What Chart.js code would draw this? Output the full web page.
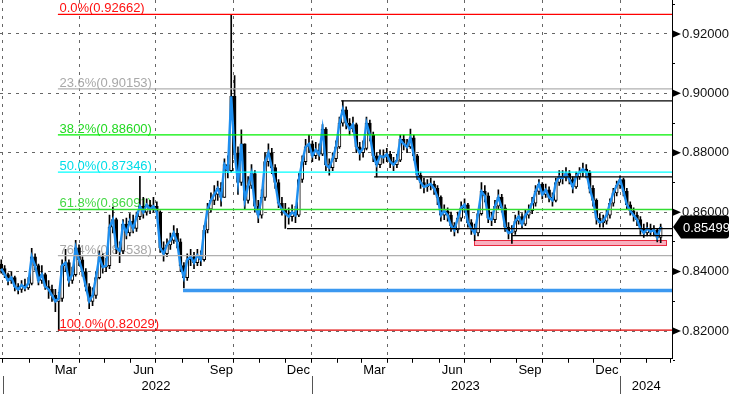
<!DOCTYPE html>
<html><head><meta charset="utf-8">
<script src="https://cdn.jsdelivr.net/npm/chart.js@4.4.1/dist/chart.umd.min.js"></script>
<style>html,body{margin:0;padding:0;background:#fff;overflow:hidden}canvas{display:block}</style>
</head><body>
<canvas id="c" width="729" height="394"></canvas>
<script>
// ---- DATA (x = days since 1 Jan 2022, one bar every 4 days) ----
const firstDay = -2, dayStep = 4;
const firstOpen = 0.8425;
const closes = [
0.8410,0.8390,0.8370,0.8380,0.8350,0.8340,0.8355,0.8345,0.8360,0.8450,
0.8420,0.8370,0.8390,0.8350,0.8340,0.8320,0.8300,0.8310,0.8420,0.8430,
0.8370,0.8390,0.8480,0.8440,0.8400,0.8350,0.8300,0.8320,0.8380,0.8450,
0.8415,0.8420,0.8550,0.8575,0.8480,0.8470,0.8560,0.8530,0.8570,0.8545,
0.8585,0.8620,0.8600,0.8625,0.8610,0.8620,0.8600,0.8480,0.8460,0.8490,
0.8505,0.8530,0.8500,0.8420,0.8380,0.8440,0.8450,0.8430,0.8455,0.8440,
0.8540,0.8610,0.8640,0.8660,0.8680,0.8650,0.8760,0.8740,0.8990,0.8800,
0.8700,0.8830,0.8640,0.8690,0.8730,0.8620,0.8590,0.8650,0.8770,0.8800,
0.8750,0.8700,0.8630,0.8610,0.8595,0.8585,0.8600,0.8590,0.8710,0.8770,
0.8820,0.8830,0.8790,0.8810,0.8795,0.8880,0.8760,0.8750,0.8780,0.8820,
0.8900,0.8945,0.8900,0.8880,0.8895,0.8820,0.8800,0.8815,0.8900,0.8860,
0.8790,0.8760,0.8790,0.8785,0.8795,0.8770,0.8760,0.8775,0.8845,0.8830,
0.8820,0.8850,0.8790,0.8725,0.8700,0.8685,0.8690,0.8695,0.8680,0.8650,
0.8590,0.8605,0.8590,0.8555,0.8540,0.8580,0.8615,0.8625,0.8565,0.8545,
0.8530,0.8595,0.8670,0.8655,0.8580,0.8575,0.8620,0.8650,0.8615,0.8550,
0.8530,0.8535,0.8570,0.8585,0.8560,0.8590,0.8605,0.8630,0.8670,0.8695,
0.8660,0.8675,0.8650,0.8640,0.8700,0.8720,0.8715,0.8730,0.8710,0.8685,
0.8720,0.8735,0.8745,0.8735,0.8680,0.8640,0.8580,0.8565,0.8570,0.8590,
0.8630,0.8665,0.8690,0.8710,0.8670,0.8625,0.8605,0.8590,0.8575,0.8545,
0.8530,0.8545,0.8535,0.8540,0.8515,0.85499];
const highs = [
0.8440,0.8420,0.8395,0.8400,0.8385,0.8360,0.8370,0.8375,0.8380,0.8478,
0.8460,0.8425,0.8420,0.8395,0.8370,0.8355,0.8340,0.8330,0.8440,0.8475,
0.8440,0.8415,0.8505,0.8490,0.8450,0.8410,0.8360,0.8345,0.8400,0.8470,
0.8460,0.8445,0.8590,0.8617,0.8580,0.8500,0.8575,0.8580,0.8595,0.8590,
0.8600,0.8721,0.8650,0.8645,0.8640,0.8650,0.8635,0.8605,0.8500,0.8510,
0.8530,0.8555,0.8545,0.8510,0.8430,0.8460,0.8475,0.8465,0.8475,0.8470,
0.8555,0.8630,0.8665,0.8690,0.8705,0.8700,0.8780,0.8790,0.9266,0.9060,
0.8820,0.8877,0.8830,0.8720,0.8760,0.8740,0.8640,0.8675,0.8800,0.8830,
0.8815,0.8760,0.8710,0.8650,0.8630,0.8615,0.8625,0.8620,0.8730,0.8790,
0.8845,0.8860,0.8840,0.8835,0.8830,0.8895,0.8885,0.8780,0.8800,0.8840,
0.8920,0.8975,0.8955,0.8915,0.8920,0.8900,0.8835,0.8840,0.8920,0.8910,
0.8870,0.8800,0.8810,0.8810,0.8815,0.8805,0.8785,0.8795,0.8860,0.8860,
0.8845,0.8880,0.8860,0.8795,0.8735,0.8715,0.8710,0.8715,0.8705,0.8690,
0.8655,0.8625,0.8615,0.8600,0.8565,0.8600,0.8635,0.8645,0.8630,0.8575,
0.8560,0.8610,0.8700,0.8690,0.8665,0.8600,0.8640,0.8675,0.8660,0.8625,
0.8565,0.8555,0.8590,0.8605,0.8595,0.8610,0.8625,0.8650,0.8690,0.8710,
0.8700,0.8695,0.8685,0.8665,0.8715,0.8740,0.8740,0.8750,0.8740,0.8720,
0.8735,0.8750,0.8765,0.8760,0.8740,0.8690,0.8645,0.8595,0.8590,0.8610,
0.8645,0.8680,0.8705,0.8722,0.8715,0.8680,0.8635,0.8615,0.8600,0.8585,
0.8560,0.8565,0.8560,0.8555,0.8545,0.8560];
const lows = [
0.8395,0.8380,0.8355,0.8360,0.8335,0.8325,0.8330,0.8335,0.8340,0.8355,
0.8405,0.8355,0.8360,0.8340,0.8310,0.8300,0.8265,0.8203,0.8300,0.8400,
0.8350,0.8360,0.8385,0.8420,0.8385,0.8335,0.8275,0.8285,0.8310,0.8375,
0.8395,0.8400,0.8410,0.8530,0.8460,0.8430,0.8460,0.8510,0.8520,0.8530,
0.8535,0.8575,0.8580,0.8590,0.8595,0.8600,0.8585,0.8465,0.8435,0.8450,
0.8475,0.8495,0.8480,0.8400,0.8345,0.8370,0.8420,0.8410,0.8420,0.8420,
0.8435,0.8530,0.8600,0.8625,0.8640,0.8620,0.8650,0.8715,0.8735,0.8780,
0.8660,0.8690,0.8610,0.8630,0.8680,0.8600,0.8565,0.8580,0.8640,0.8755,
0.8730,0.8680,0.8615,0.8590,0.8545,0.8560,0.8570,0.8565,0.8585,0.8700,
0.8760,0.8800,0.8770,0.8780,0.8775,0.8790,0.8740,0.8725,0.8740,0.8770,
0.8815,0.8890,0.8880,0.8860,0.8870,0.8800,0.8775,0.8785,0.8810,0.8840,
0.8770,0.8719,0.8750,0.8765,0.8770,0.8750,0.8740,0.8750,0.8770,0.8810,
0.8800,0.8815,0.8775,0.8710,0.8680,0.8665,0.8670,0.8675,0.8660,0.8625,
0.8570,0.8575,0.8570,0.8535,0.8520,0.8530,0.8570,0.8600,0.8550,0.8525,
0.8504,0.8520,0.8590,0.8635,0.8565,0.8555,0.8565,0.8610,0.8600,0.8535,
0.8510,0.8495,0.8525,0.8560,0.8545,0.8555,0.8580,0.8595,0.8620,0.8660,
0.8645,0.8650,0.8635,0.8620,0.8635,0.8690,0.8695,0.8705,0.8695,0.8665,
0.8680,0.8710,0.8720,0.8715,0.8665,0.8620,0.8560,0.8550,0.8550,0.8560,
0.8580,0.8620,0.8655,0.8680,0.8655,0.8610,0.8590,0.8570,0.8555,0.8525,
0.8515,0.8520,0.8520,0.8520,0.8500,0.8497];

// Fibonacci retracement levels
const fibNames  = ['0.0%','23.6%','38.2%','50.0%','61.8%','76.4%','100.0%'];
const fibLevels = [0.92662,0.90153,0.88600,0.87346,0.86091,0.84538,0.82029];
const fibStartDay = 65;
// support / resistance lines
const srLevels = [0.8975,0.8719,0.85445,0.8521];
const srStartDays = [400,439,336,602];
const supportLevel = 0.83364, supportStartDay = 213;
const boxRange = [0.8489,0.8505], boxDays = [557.5,785];
const lastPrice = 0.85499;

// axes
const xMin = -3.5, xMax = 791.4;
const yMin = 0.81065, yMax = 0.93143;
const yTickValues = [0.81,0.82,0.83,0.84,0.85,0.86,0.87,0.88,0.89,0.90,0.91,0.92,0.93];
const monthStartDays = [0,31,59,90,120,151,181,212,243,273,304,334,365,396,424,455,485,516,546,577,608,638,669,699,730,761,790];
const monthLabels = ['','','Mar','','','Jun','','','Sep','','','Dec','','','Mar','','','Jun','','','Sep','','','Dec','','',''];
const yearLabels = ['2022','2023','2024'];
const yearLabelDays = [181,547,761];
const yearStartDays = [0,365,730];

// ---- styles ----
const fibLineColors = ['#ff0000','#b0b0b0','#00f000','#00ffff','#33dd33','#b0b0b0','#e00000'];
const fibTextColors = ['#ff1010','#a8a8a8','#22d822','#00dde8','#44d844','#a8a8a8','#ff1010'];
const FONT = '"Liberation Sans", Arial, sans-serif';

const days = closes.map((_, i) => firstDay + i * dayStep);
const opens = closes.map((c, i) => i === 0 ? firstOpen : closes[i - 1]);

const datasets = [];
datasets.push({
  type:'bar', label:'wick', order:10, grouped:false,
  data: days.map((d,i)=>({x:d, y:[lows[i], highs[i]]})),
  backgroundColor:'#000', borderWidth:0, barThickness:1, borderSkipped:false
});
datasets.push({
  type:'bar', label:'body', order:9, grouped:false,
  data: days.map((d,i)=>({x:d, y:[opens[i], closes[i]]})),
  backgroundColor: ctx => (ctx.raw && ctx.raw.y[1] >= ctx.raw.y[0]) ? '#ffffff' : '#000000',
  borderColor:'#000', borderWidth:1, barThickness:3, borderSkipped:false
});
datasets.push({
  type:'line', label:'close', order:8,
  data: days.map((d,i)=>({x:d, y:closes[i]})),
  borderColor:'#1e8ff0', borderWidth:2.4, pointRadius:0, tension:0
});
srLevels.forEach((lv,i)=>datasets.push({
  type:'line', order:5, data:[{x:srStartDays[i], y:lv},{x:xMax, y:lv}],
  borderColor:'#000', borderWidth:1.3, pointRadius:0
}));
datasets.push({
  type:'line', order:4, data:[{x:supportStartDay, y:supportLevel},{x:xMax, y:supportLevel}],
  borderColor:'#3b98f0', borderWidth:3.5, pointRadius:0
});
fibLevels.forEach((lv,i)=>datasets.push({
  type:'line', order:3, data:[{x:fibStartDay, y:lv},{x:xMax, y:lv}],
  borderColor:fibLineColors[i], borderWidth:1.3, pointRadius:0
}));

const overlay = {
  id:'overlay',
  beforeDatasetsDraw(chart){
    const {ctx, scales:{x, y}} = chart;
    ctx.save();
    const bx1 = x.getPixelForValue(boxDays[0]), bx2 = x.getPixelForValue(boxDays[1]);
    const by1 = y.getPixelForValue(boxRange[1]), by2 = y.getPixelForValue(boxRange[0]);
    ctx.fillStyle = '#f8b0bf';
    ctx.fillRect(bx1, by1, bx2-bx1, by2-by1);
    ctx.strokeStyle = '#e8283f'; ctx.lineWidth = 1;
    ctx.strokeRect(Math.round(bx1)+0.5, Math.round(by1)+0.5, Math.round(bx2-bx1), Math.round(by2-by1));
    ctx.font = '13px ' + FONT;
    ctx.textAlign = 'left'; ctx.textBaseline = 'alphabetic';
    fibLevels.forEach((lv,i)=>{
      ctx.fillStyle = fibTextColors[i];
      ctx.fillText(fibNames[i] + '(' + lv.toFixed(5) + ')', x.getPixelForValue(fibStartDay)+1.5, y.getPixelForValue(lv)-2);
    });
    ctx.restore();
  },
  afterDraw(chart){
    const {ctx, scales:{x, y}, chartArea} = chart;
    ctx.save();
    // arrows at labelled y ticks
    ctx.fillStyle = '#000';
    yTickValues.forEach(v=>{
      if (Math.round(v*100) % 2 !== 0) return;
      const py = y.getPixelForValue(v);
      ctx.beginPath();
      ctx.moveTo(chartArea.right+1, py-3.5);
      ctx.lineTo(chartArea.right+9, py);
      ctx.lineTo(chartArea.right+1, py+3.5);
      ctx.closePath(); ctx.fill();
    });
    // last price tag
    const py = y.getPixelForValue(lastPrice);
    const l = chartArea.right+1, bl = l+8, r = 729, h = 11.5, rad = 3;
    ctx.beginPath();
    ctx.moveTo(l, py);
    ctx.lineTo(bl, py-h);
    ctx.lineTo(r-rad, py-h);
    ctx.quadraticCurveTo(r, py-h, r, py-h+rad);
    ctx.lineTo(r, py+h-rad);
    ctx.quadraticCurveTo(r, py+h, r-rad, py+h);
    ctx.lineTo(bl, py+h);
    ctx.closePath();
    ctx.fillStyle = '#000'; ctx.fill();
    ctx.fillStyle = '#fff'; ctx.font = '13px ' + FONT;
    ctx.textAlign = 'left'; ctx.textBaseline = 'middle';
    ctx.fillText(lastPrice.toFixed(5), bl+2, py+1);
    // year separators
    ctx.strokeStyle = '#555'; ctx.lineWidth = 1;
    yearStartDays.forEach(d=>{
      const px = Math.round(x.getPixelForValue(d))+0.5;
      ctx.beginPath(); ctx.moveTo(px, 376); ctx.lineTo(px, 394); ctx.stroke();
    });
    ctx.restore();
  }
};

const zeroPad = s => { s.paddingLeft = 0; s.paddingRight = 0; s.paddingTop = 0; s.paddingBottom = 0; };

new Chart(document.getElementById('c'), {
  type:'line',
  data:{ datasets },
  options:{
    responsive:false, animation:false, devicePixelRatio:1,
    layout:{ padding:0 },
    plugins:{ legend:{display:false}, tooltip:{enabled:false} },
    scales:{
      x:{
        type:'linear', position:'bottom', min:xMin, max:xMax, offset:false, weight:0,
        afterBuildTicks: s => { s.ticks = monthStartDays.map(v=>({value:v})); },
        afterFit: zeroPad,
        ticks:{ autoSkip:false, maxRotation:0, minRotation:0, padding:0, labelOffset:13,
          color:'#000', font:{family:FONT, size:13},
          callback:(v,i)=>monthLabels[i] },
        grid:{ offset:false, tickLength:4, tickColor:'#000', lineWidth:1,
          color: c => (c.index % 3 === 0) ? '#666' : 'rgba(0,0,0,0)' },
        border:{ display:true, color:'#000', width:1, dash:[3,5] }
      },
      x2:{
        type:'linear', position:'bottom', min:xMin, max:xMax, offset:false, weight:1,
        afterBuildTicks: s => { s.ticks = yearLabelDays.map(v=>({value:v})); },
        afterFit: zeroPad,
        ticks:{ autoSkip:false, maxRotation:0, padding:0, color:'#000', font:{family:FONT, size:13},
          callback:(v,i)=>yearLabels[i] },
        grid:{ display:false, drawTicks:false },
        border:{ display:false }
      },
      y:{
        type:'linear', position:'right', min:yMin, max:yMax,
        afterBuildTicks: s => { s.ticks = yTickValues.map(v=>({value:v})); },
        afterFit: s => { zeroPad(s); s.width = 57; },
        ticks:{ padding:7, color:'#111', font:{family:FONT, size:13},
          callback: v => (Math.round(v*100) % 2 === 0) ? v.toFixed(5) : '' },
        grid:{ tickLength:3, tickColor:'#000', lineWidth:1,
          color: c => (c.tick && Math.round(c.tick.value*100) % 2 === 0) ? '#666' : 'rgba(0,0,0,0)' },
        border:{ display:true, color:'#000', width:1, dash:[3,5] }
      }
    }
  },
  plugins:[overlay]
});
</script>
</body></html>
